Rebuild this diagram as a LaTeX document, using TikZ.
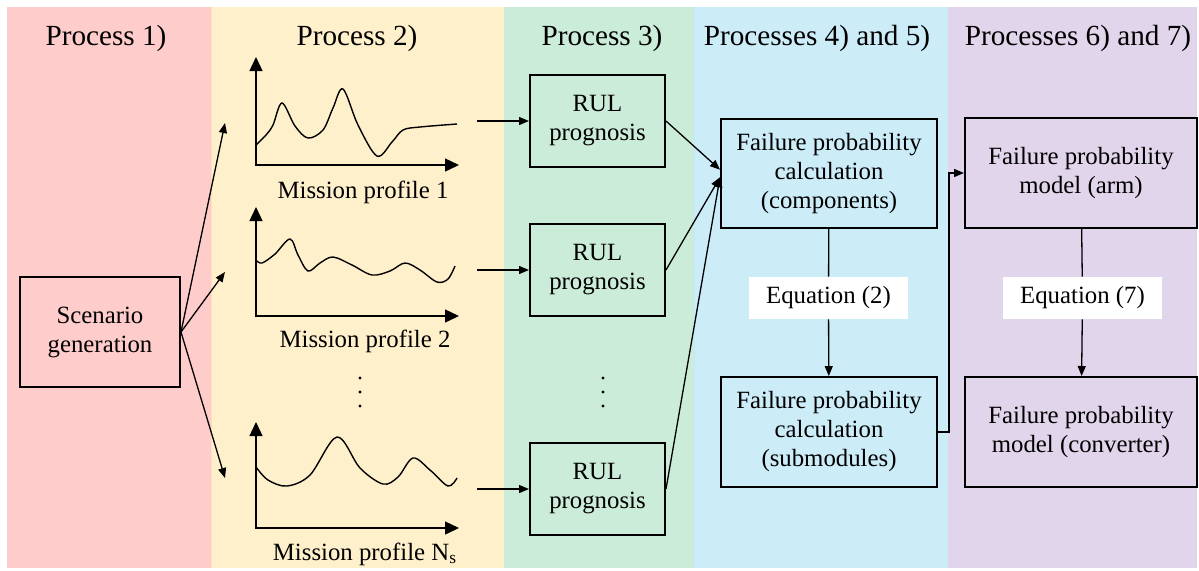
\documentclass[tikz,border=0pt]{standalone}
\usepackage{fontspec}
\setmainfont{Liberation Serif}
\usepackage{xcolor}
\usetikzlibrary{arrows.meta}

\definecolor{pinkbg}{RGB}{255,204,204}
\definecolor{yellowbg}{RGB}{255,240,204}
\definecolor{greenbg}{RGB}{204,236,218}
\definecolor{bluebg}{RGB}{204,236,248}
\definecolor{purplebg}{RGB}{225,213,235}

\begin{document}
\begin{tikzpicture}[x=0.5pt,y=-0.5pt,
		box/.style={draw,line width=1pt,align=center,inner sep=0pt,font=\fontsize{12.4}{14.5}\selectfont},
		eqbox/.style={fill=white,inner sep=0pt,minimum width=79.5pt,minimum height=21pt,font=\fontsize{12.4}{14.5}\selectfont},
		ttl/.style={anchor=base,font=\fontsize{14.6}{17}\selectfont},
		lbl/.style={anchor=base,font=\fontsize{12.4}{14.5}\selectfont},
		axis/.style={line width=0.7pt,{Triangle[length=7pt,width=6.5pt]}-{Triangle[length=7pt,width=6.5pt]}},
		curve/.style={line width=0.7pt,smooth,tension=0.55}]
		\useasboundingbox (0,0) rectangle (1199,570);
		% background bands
		\fill[pinkbg] (7,7) rectangle (211,568);
		\fill[yellowbg] (211,7) rectangle (504,568);
		\fill[greenbg] (504,7) rectangle (694,568);
		\fill[bluebg] (694,7) rectangle (948,568);
		\fill[purplebg] (948,7) rectangle (1197,568);
		\draw[orange!25,line width=0.4pt] (211,7) -- (211,568);
		\draw[cyan!25,line width=0.4pt] (694,7) -- (694,568);
		%
		\node[ttl] (T1) at (106,45) {Process 1)};
		\node[ttl] (T2) at (357,45) {Process 2)};
		\node[ttl] (T3) at (602,45) {Process 3)};
		\node[ttl] (T4) at (817,45) {Processes 4) and 5)};
		\node[ttl] (T5) at (1078,45) {Processes 6) and 7)};
		%
		\node[box,minimum width=80pt,minimum height=55pt] (S) at (100,332) {Scenario\\generation};
		\node[box,minimum width=67.5pt,minimum height=46pt] (R) at (597.5,121) {RUL\\prognosis};
		\node[box,minimum width=67.5pt,minimum height=46pt] (R') at (597.5,270) {RUL\\prognosis};
		\node[box,minimum width=67.5pt,minimum height=46pt] (R'') at (597.5,489) {RUL\\prognosis};
		\node[box,minimum width=108pt,minimum height=54.5pt] (C) at (829,173.5) {Failure probability\\calculation\\(components)};
		\node[box,minimum width=108pt,minimum height=55pt] (C') at (829,432) {Failure probability\\calculation\\(submodules)};
		\node[box,minimum width=116pt,minimum height=55pt] (M) at (1081,173) {Failure probability\\model (arm)};
		\node[box,minimum width=116pt,minimum height=55pt] (M') at (1081,432) {Failure probability\\model (converter)};
		\node[eqbox] (E) at (828.5,298) {Equation (2)};
		\node[eqbox] (E') at (1082.5,298) {Equation (7)};
		%
		% mission profiles
		\draw[axis] (256,57) |- (459,165);
		\draw[curve] plot coordinates {(256,145) (266,135) (273,125) (282,103) (295,126) (308,138) (323,130) (333,108) (343,89) (358,125) (377,156) (392,142) (403,130) (420,127) (457,124)};
		\node[lbl] (L) at (363,198) {Mission profile 1};
		\draw[axis] (256,207) |- (459,316);
		\draw[curve] plot coordinates {(256,260) (262,263) (275,254) (290,239) (298,255) (308,271) (320,263) (333,257) (352,265) (372,275) (390,271) (405,263) (420,270) (437,282) (448,279) (455,266)};
		\node[lbl] (L') at (365,347) {Mission profile 2};
		\draw[axis] (256,422) |- (459,528);
		\draw[curve] plot coordinates {(256,467) (268,480) (287,486) (310,475) (337,437) (360,468) (383,484) (398,477) (413,458) (430,470) (448,486) (457,478)};
		\node[lbl] (L'') at (365,560) {Mission profile N\textsubscript{s}};
		% dots
		\foreach \y in {378,392,406} {
			\fill (360,\y) circle (1.6);
			\fill (603,\y) circle (1.6);
		}
		%
		\coordinate (P) at (225,123);
		\coordinate (P') at (225,272);
		\coordinate (P'') at (225,478);
		\coordinate (Q) at (477,121);
		\coordinate (Q') at (477,270);
		\coordinate (Q'') at (477,489);
		%
		\path[->,line width=0.65pt,>={Triangle[length=5pt,width=4pt]}]
		% scenario arrows
		(S.east) edge (P)
		(S.east) edge (P')
		(S.east) edge (P'')
		% horizontal arrows
		(Q) edge (R)
		(Q') edge (R')
		(Q'') edge (R'')
		(R.east) edge (C.178)
		(R'.east) edge (C.182)
		(R''.east) edge (C.182)
		% vertical arrows
		(C) edge[-] (E)
		(E) edge (C')
		(M) edge[-] (E')
		(E') edge (M');
		\draw[->,line width=0.65pt,>={Triangle[length=5pt,width=4pt]}] (C'.east) -- ++(11,0) |- (M.west);
	\end{tikzpicture}
\end{document}
